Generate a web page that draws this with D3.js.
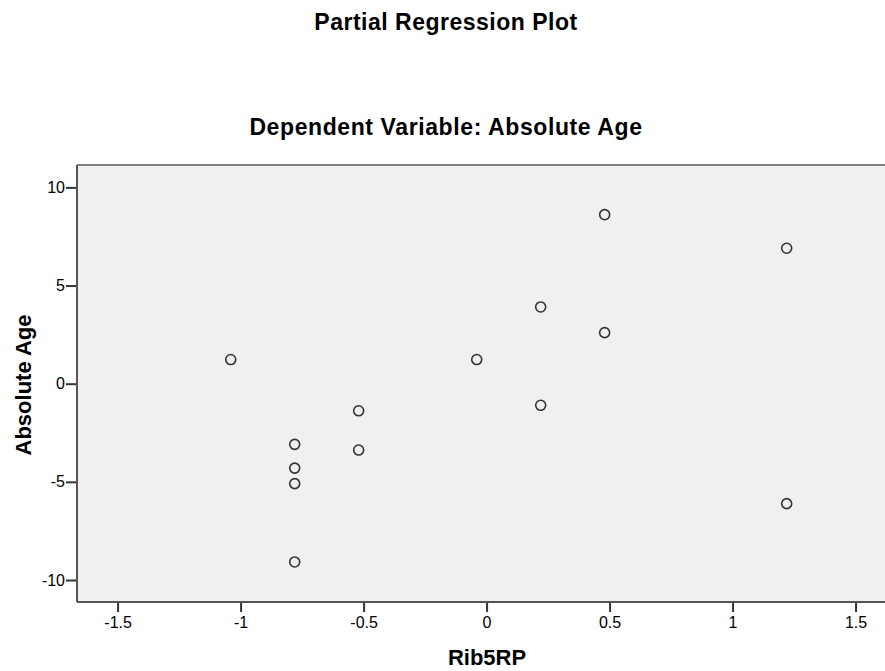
<!DOCTYPE html>
<html lang="en">
<head>
<meta charset="UTF-8">
<title>Partial Regression Plot</title>
<script src="https://cdn.jsdelivr.net/npm/d3@7"></script>
<style>
  body { margin: 0; background: #fff; }
  svg text { font-family: "Liberation Sans", Arial, sans-serif; fill: #000; }
  .axis .domain { display: none; }
  .axis line { stroke: #333; stroke-width: 2; }
  .axis text { font-size: 16px; }
</style>
</head>
<body>
<div id="chart"></div>
<script>
// residuals
var rib5rp = [-1.04, -0.78, -0.78, -0.78, -0.78, -0.52, -0.52, -0.04, 0.22, 0.22, 0.48, 0.48, 1.22, 1.22];
var absAge = [1.23, -3.09, -4.30, -5.09, -9.08, -1.38, -3.38, 1.23, 3.91, -1.10, 8.61, 2.60, 6.90, -6.11];
var xTicks = [-1.5, -1, -0.5, 0, 0.5, 1, 1.5];
var yTicks = [-10, -5, 0, 5, 10];

const w = 885, h = 671;
const plot = {left: 77, right: 890, top: 165, bottom: 602};

var svg = d3.select("#chart").append("svg")
    .attr("width", w)
    .attr("height", h);

var x = d3.scaleLinear()
    .domain([-1.665, 1.64])
    .range([plot.left, plot.right]);

var y = d3.scaleLinear()
    .domain([-11.12, 11.14])
    .range([plot.bottom, plot.top]);

// plot background
svg.append("rect")
    .attr("x", plot.left)
    .attr("y", plot.top)
    .attr("width", plot.right - plot.left)
    .attr("height", plot.bottom - plot.top)
    .attr("fill", "#f0f0f0");

// frame: top lighter, left + bottom darker
svg.append("line")
    .attr("x1", plot.left).attr("x2", plot.right)
    .attr("y1", plot.top).attr("y2", plot.top)
    .attr("stroke", "#808080").attr("stroke-width", 2);
svg.append("line")
    .attr("x1", plot.left).attr("x2", plot.left)
    .attr("y1", plot.top).attr("y2", plot.bottom)
    .attr("stroke", "#555").attr("stroke-width", 2);
svg.append("line")
    .attr("x1", plot.left).attr("x2", plot.right)
    .attr("y1", plot.bottom).attr("y2", plot.bottom)
    .attr("stroke", "#555").attr("stroke-width", 2);

// plain hyphen minus like the original, not d3's unicode minus
var plain = d => String(d);

svg.append("g")
    .attr("class", "axis")
    .attr("transform", "translate(0," + (plot.bottom + 1) + ")")
    .call(d3.axisBottom(x).tickValues(xTicks).tickSize(9).tickPadding(5)
        .tickFormat(plain));

svg.append("g")
    .attr("class", "axis")
    .attr("transform", "translate(" + (plot.left - 1) + ",0)")
    .call(d3.axisLeft(y).tickValues(yTicks).tickSize(10).tickPadding(1)
        .tickFormat(plain));

// points
svg.append("g")
    .selectAll("circle")
    .data(rib5rp.map((v, i) => [v, absAge[i]]))
    .enter()
    .append("circle")
    .attr("cx", d => x(d[0]))
    .attr("cy", d => y(d[1]))
    .attr("r", 5)
    .attr("fill", "none")
    .attr("stroke", "#333")
    .attr("stroke-width", 1.6);

// titles
svg.append("text")
    .attr("x", 446).attr("y", 30)
    .attr("text-anchor", "middle")
    .style("font-size", "23px").style("font-weight", "bold")
    .style("letter-spacing", "0.5px")
    .text("Partial Regression Plot");

svg.append("text")
    .attr("x", 446).attr("y", 135)
    .attr("text-anchor", "middle")
    .style("font-size", "23px").style("font-weight", "bold")
    .style("letter-spacing", "0.6px")
    .text("Dependent Variable: Absolute Age");

svg.append("text")
    .attr("x", 487).attr("y", 665)
    .attr("text-anchor", "middle")
    .style("font-size", "22px").style("font-weight", "bold")
    .text("Rib5RP");

svg.append("text")
    .attr("transform", "translate(31,385) rotate(-90)")
    .attr("text-anchor", "middle")
    .style("font-size", "22px").style("font-weight", "bold")
    .text("Absolute Age");
</script>
</body>
</html>
